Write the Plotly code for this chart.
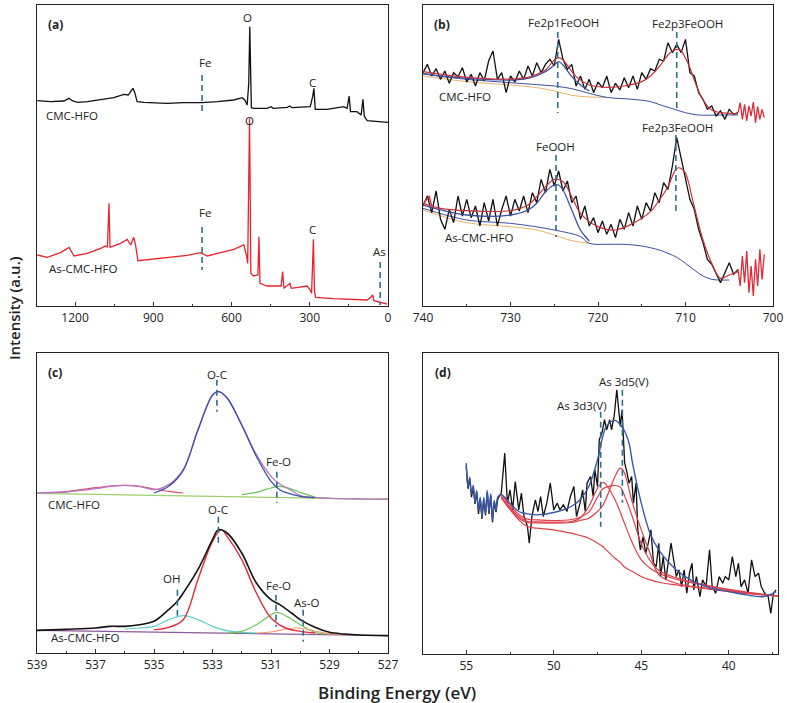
import plotly.graph_objects as go

FONT = "Open Sans"

# ---------------- Panel (a): survey spectra ----------------
A_CMC_EV = [1345, 1294, 1243, 1223, 1211, 1191, 1153, 1102, 1051, 1013, 996, 987, 978, 971, 962, 936, 847, 783, 713, 655, 591, 559, 549, 540, 534, 530, 527, 524, 515, 464, 448, 441, 386, 377, 368, 298, 289, 284, 279, 234, 170, 157, 149, 144, 119, 112, 103, 96, 91, 80, 0]
A_CMC_I = [616, 613, 615, 623, 616, 611, 613, 618, 625, 635, 633, 643, 653, 640, 613, 611, 608, 610, 610, 613, 618, 625, 618, 603, 668, 838, 718, 595, 593, 593, 598, 593, 596, 600, 595, 598, 628, 653, 590, 590, 598, 593, 630, 583, 583, 578, 573, 620, 570, 556, 551]
A_AS_EV = [1345, 1307, 1256, 1223, 1204, 1153, 1102, 1083, 1076, 1070, 1066, 1025, 1000, 987, 975, 968, 959, 910, 847, 770, 719, 693, 642, 591, 553, 543, 538, 534, 531, 528, 526, 515, 499, 495, 491, 464, 410, 404, 399, 376, 371, 310, 300, 293, 286, 282, 277, 208, 80, 64, 59, 54, 4]
A_AS_I = [153, 146, 160, 176, 150, 158, 173, 180, 176, 308, 176, 188, 200, 183, 206, 183, 136, 140, 146, 152, 160, 150, 160, 170, 183, 153, 128, 420, 563, 300, 98, 90, 93, 208, 68, 60, 60, 103, 53, 68, 53, 60, 50, 38, 200, 43, 26, 22, 18, 28, 33, 16, 6]

# ---------------- Panel (b): Fe 2p ----------------
B_EV = [740, 739.5, 739, 738.5, 738, 737.5, 737, 736.5, 736, 735.5, 735, 734.5, 734, 733.5, 733, 732.5, 732, 731.5, 731, 730.5,
        730, 729.5, 729, 728.5, 728, 727.5, 727, 726.5, 726, 725.5, 725, 724.5, 724, 723.5, 723, 722.5, 722, 721.5, 721, 720.5,
        720, 719.5, 719, 718.5, 718, 717.5, 717, 716.5, 716, 715.5, 715, 714.5, 714, 713.5, 713, 712.5, 712, 711.5, 711, 710.5,
        710, 709.5, 709, 708.5, 708, 707.5, 707, 706.5, 706, 705.5, 705, 704.5, 704]
B_CMC_RAW = [700, 725, 690, 712, 680, 705, 668, 700, 688, 715, 672, 695, 660, 700, 676, 735, 765, 680, 700, 640,
             690, 672, 705, 680, 720, 690, 730, 700, 725, 740, 720, 800, 740, 710, 725, 660, 690, 650, 680, 640,
             672, 655, 690, 640, 668, 648, 685, 655, 690, 650, 700, 680, 712, 705, 740, 735, 790, 760, 785, 760,
             800, 700, 690, 640, 620, 590, 600, 570, 585, 560, 590, 575, 580]
B_AS_RAW = [300, 330, 280, 345, 260, 230, 290, 250, 330, 270, 320, 265, 300, 240, 310, 255, 320, 240, 290, 330,
            270, 320, 285, 330, 280, 340, 310, 380, 340, 410, 360, 405, 345, 375, 310, 330, 260, 300, 240, 265,
            220, 255, 215, 245, 205, 260, 230, 280, 240, 300, 260, 310, 285, 340, 310, 370, 350, 420, 505, 440,
            380, 320, 290, 230, 190, 140, 125, 95, 70, 100, 130, 95, 110]
B_TAIL_EV = [704, 703.75, 703.5, 703.25, 703, 702.75, 702.5, 702.25, 702, 701.75, 701.5, 701.25, 701]
B_CMC_TAIL = [580, 610, 560, 605, 555, 600, 570, 612, 550, 598, 560, 590, 565]
B_AS_TAIL = [110, 60, 150, 70, 165, 40, 120, 30, 140, 60, 170, 80, 155]
B_AS_HEAD_EV = [740, 739.6, 739.3, 739]
B_AS_HEAD = [305, 320, 330, 300]

B_CMC_FIT_EV = [740, 735, 730, 728, 727, 726, 725, 724.5, 724, 723.5, 722.5, 721, 719, 717, 715, 714, 713, 712, 711.5, 711, 710.5, 710, 709.5, 709, 708, 707, 706, 705, 704]
B_CMC_FIT = [703, 686, 681, 686, 695, 708, 738, 745, 738, 722, 688, 663, 656, 660, 673, 690, 718, 753, 765, 770, 766, 743, 715, 678, 618, 588, 580, 578, 576]
B_CMC_COMP_EV = [740, 738, 735, 730, 728, 726, 725, 724.5, 724, 723, 722, 721]
B_CMC_COMP = [698, 690, 683, 678, 683, 703, 723, 733, 723, 688, 663, 645]
B_CMC_BG_EV = [740, 735, 730, 727, 725, 723, 721, 719, 716, 714, 712.5, 711, 710, 708.5, 706, 704]
B_CMC_BG = [696, 680, 670, 664, 660, 652, 638, 626, 620, 613, 600, 588, 580, 573, 573, 573]
B_CMC_OR_EV = [740, 735, 730, 727, 725, 723, 721, 719]
B_CMC_OR = [690, 673, 663, 655, 645, 632, 627, 626]

B_AS_FIT_EV = [740, 738, 735, 730, 728, 727, 726, 725, 724, 723, 722, 720, 718, 716, 714, 713, 712, 711, 710.5, 710, 709, 708, 707, 706, 705, 704]
B_AS_FIT = [308, 293, 286, 286, 303, 328, 358, 380, 373, 328, 278, 238, 228, 248, 283, 318, 358, 413, 413, 398, 298, 198, 128, 83, 93, 103]
B_AS_COMP_EV = [740, 735, 730, 728, 727, 726, 725, 724.5, 724, 723, 722, 721.5, 721]
B_AS_COMP = [303, 273, 273, 288, 308, 343, 363, 363, 348, 288, 228, 210, 195]
B_AS_BG_EV = [740, 735, 730, 725, 722, 721, 719, 717, 715, 713, 712, 711, 710, 709, 708, 707, 706, 705]
B_AS_BG = [293, 258, 248, 228, 208, 188, 185, 185, 180, 168, 158, 146, 128, 108, 90, 80, 78, 78]
B_AS_OR_EV = [740, 735, 730, 727, 725, 723, 721]
B_AS_OR = [288, 250, 238, 228, 213, 196, 188]

# ---------------- Panel (c): O 1s ----------------
C_CMC_ENV_EV = [539, 538, 537, 536.5, 536, 535.5, 535, 534.5, 534, 533.5, 533, 532.8, 532.5, 532, 531.5, 531, 530.7, 530.3, 530, 529.5, 529, 528, 527]
C_CMC_ENV = [480, 483, 493, 500, 503, 500, 490, 505, 550, 670, 775, 785, 765, 685, 595, 530, 507, 488, 472, 466, 464, 462, 462]
C_CMC_OC_EV = [535, 534.5, 534, 533.5, 533, 532.8, 532.5, 532, 531.5, 531, 530.7, 530.5, 530, 529.5]
C_CMC_OC = [480, 500, 548, 668, 773, 784, 765, 683, 590, 515, 490, 482, 470, 466]
C_CMC_P1_EV = [538.5, 538, 537.5, 537, 536.5, 536, 535.5, 535, 534.5, 534]
C_CMC_P1 = [481, 484, 490, 496, 501, 503, 500, 492, 485, 480]
C_CMC_FEO_EV = [532, 531.5, 531, 530.7, 530.3, 530, 529.5, 529]
C_CMC_FEO = [475, 482, 495, 500, 492, 482, 468, 465]
C_CMC_BASE_EV = [539, 527]
C_CMC_BASE = [479, 461]

C_AS_ENV_EV = [539, 538, 537, 536.5, 536, 535.5, 535, 534.5, 534.2, 534, 533.5, 533, 532.8, 532.5, 532, 531.5, 531, 530.7, 530.3, 530, 529.5, 529, 528.5, 528, 527]
C_AS_ENV = [68, 71, 75, 80, 80, 85, 95, 130, 155, 180, 250, 340, 370, 360, 300, 210, 160, 145, 120, 100, 77, 62, 57, 54, 52]
C_AS_OC_EV = [535, 534.5, 534, 533.5, 533, 532.7, 532.5, 532, 531.5, 531, 530.5, 530, 529.5]
C_AS_OC = [70, 77, 100, 220, 335, 370, 350, 280, 180, 105, 75, 65, 60]
C_AS_OH_EV = [536, 535.5, 535, 534.5, 534, 533.5, 533, 532.5, 532, 531.5]
C_AS_OH = [72, 75, 80, 100, 112, 100, 80, 67, 62, 60]
C_AS_FEO_EV = [532.5, 532, 531.5, 531, 530.8, 530.5, 530, 529.5, 529]
C_AS_FEO = [60, 65, 85, 115, 122, 112, 85, 62, 57]
C_AS_ASO_EV = [531.5, 531, 530.5, 530.2, 529.8, 529.5, 529, 528.5]
C_AS_ASO = [60, 63, 72, 75, 72, 66, 58, 55]
C_AS_BASE_EV = [539, 527]
C_AS_BASE = [68, 52]

# ---------------- Panel (d): As 3d ----------------
D_RAW_EV = [55, 54.9, 54.8, 54.7, 54.6, 54.5, 54.4, 54.3, 54.2, 54.1, 54.0, 53.9, 53.8, 53.7, 53.6, 53.5, 53.4, 53.3, 53.2,
            53.0, 52.8, 52.65, 52.5, 52.35, 52.2, 52.0, 51.85, 51.7, 51.5, 51.4, 51.25, 51.05, 50.9, 50.75, 50.6, 50.4, 50.2,
            50.0, 49.8, 49.65, 49.45, 49.25, 49.05, 48.85, 48.7, 48.5, 48.35, 48.2, 48.1, 47.9, 47.75, 47.65, 47.5, 47.4,
            47.25, 47.1, 46.98, 46.8, 46.7, 46.55, 46.4, 46.3, 46.2, 46.1, 45.95, 45.85, 45.7, 45.55, 45.45, 45.3, 45.2,
            45.05, 44.9, 44.75, 44.6, 44.45, 44.3, 44.15, 44.0, 43.9, 43.75, 43.6, 43.45, 43.3, 43.15, 43.0, 42.85, 42.7,
            42.55, 42.4, 42.25, 42.1, 42.0, 41.85, 41.65, 41.5, 41.3, 41.1, 40.95, 40.75, 40.55, 40.35, 40.2, 40.0, 39.8,
            39.6, 39.45, 39.3, 39.1, 38.9, 38.7, 38.5, 38.3, 38.15, 37.95, 37.75, 37.6, 37.45, 37.3]
D_RAW = [565, 495, 525, 470, 500, 450, 485, 420, 465, 405, 462, 415, 485, 420, 475, 395, 455, 425, 465,
         482, 602, 452, 492, 432, 517, 432, 482, 412, 382, 332, 412, 462, 427, 472, 412, 452, 512,
         432, 452, 432, 447, 427, 472, 502, 412, 452, 492, 427, 512, 532, 472, 552, 502, 642,
         662, 702, 672, 702, 672, 712, 792, 722, 682, 732, 572, 552, 512, 532, 452, 512, 372,
         312, 352, 302, 332, 372, 272, 262, 332, 232, 292, 222, 272, 332, 282, 232, 252, 202,
         252, 182, 242, 272, 192, 232, 172, 222, 202, 312, 202, 182, 232, 212, 232, 222, 292,
         232, 272, 202, 222, 182, 282, 232, 242, 202, 182, 172, 122, 182, 192]
D_ENV_EV = [55, 54.9, 54.8, 54.7, 54.6, 54.5, 54.4, 54.3, 54.2, 54.1, 54.0, 53.9, 53.8, 53.7, 53.6, 53.5, 53.4, 53.3, 53.2,
            53.0, 52.5, 52, 51.5, 51, 50, 49, 48.5, 48, 47.5, 47.2, 47, 46.5, 46, 45.7, 45.5, 45, 44.5, 44, 43, 42, 41, 40, 39, 38, 37.3]
D_ENV = [572, 500, 530, 480, 505, 455, 490, 430, 470, 410, 470, 420, 490, 425, 480, 400, 460, 430, 470,
         477, 452, 427, 420, 417, 424, 442, 462, 502, 582, 652, 682, 700, 672, 632, 572, 452, 362, 312, 252, 217, 197, 187, 177, 172, 187]
D_FIT_EV = [53, 52, 51.5, 51, 50, 49, 48.5, 48, 47.5, 47.2, 47, 46.5, 46.2, 46, 45.5, 45, 44.5, 44, 43, 42, 40, 38, 37.2]
D_BG = [467, 402, 382, 377, 372, 362, 355, 347, 332, 322, 312, 287, 275, 262, 247, 232, 222, 215, 207, 200, 187, 177, 174]
D_3D3 = [472, 412, 397, 396, 395, 397, 407, 442, 497, 514, 507, 462, 425, 397, 332, 282, 257, 242, 224, 212, 192, 177, 174]
D_3D5 = [472, 407, 394, 393, 392, 394, 400, 407, 427, 445, 467, 532, 557, 547, 452, 372, 302, 237, 212, 202, 190, 177, 174]
D_SUM = [480, 418, 404, 402, 400, 403, 410, 425, 470, 495, 500, 505, 500, 480, 410, 330, 280, 250, 228, 214, 194, 179, 175]

BLACK = "#111111"
RED_A = "#e8232d"
RED_B = "#c8323c"
BLUE_B = "#3c4fa0"
ORANGE = "#e9b36a"
DASH = "#2c6f8c"

fig = go.Figure()

def line(x, y, color, xa, ya, width=1.0, shape="linear"):
    fig.add_trace(go.Scatter(x=x, y=y, mode="lines", line=dict(color=color, width=width, shape=shape),
                             xaxis=xa, yaxis=ya, showlegend=False, hoverinfo="skip"))

# (a)
line(A_CMC_EV, A_CMC_I, BLACK, "x", "y", 1.3)
line(A_AS_EV, A_AS_I, RED_A, "x", "y", 1.3)

# (b)
line(B_CMC_OR_EV, B_CMC_OR, ORANGE, "x2", "y2", 1, "spline")
line(B_CMC_BG_EV, B_CMC_BG, BLUE_B, "x2", "y2", 1, "spline")
line(B_EV, B_CMC_RAW, BLACK, "x2", "y2", 1.3)
line(B_TAIL_EV, B_CMC_TAIL, "#e02a36", "x2", "y2", 1.3)
line(B_CMC_COMP_EV, B_CMC_COMP, BLUE_B, "x2", "y2", 1.3, "spline")
line(B_CMC_FIT_EV, B_CMC_FIT, RED_B, "x2", "y2", 1.2, "spline")
line(B_AS_OR_EV, B_AS_OR, ORANGE, "x2", "y2", 1, "spline")
line(B_AS_BG_EV, B_AS_BG, BLUE_B, "x2", "y2", 1, "spline")
line(B_EV, B_AS_RAW, BLACK, "x2", "y2", 1.3)
line(B_TAIL_EV, B_AS_TAIL, "#e02a36", "x2", "y2", 1.3)
line(B_AS_HEAD_EV, B_AS_HEAD, "#e02a36", "x2", "y2", 1.3)
line(B_AS_COMP_EV, B_AS_COMP, BLUE_B, "x2", "y2", 1.3, "spline")
line(B_AS_FIT_EV, B_AS_FIT, RED_B, "x2", "y2", 1.2, "spline")

# (c)
line(C_CMC_BASE_EV, C_CMC_BASE, "#9ccf6a", "x3", "y3", 1.2)
line(C_CMC_P1_EV, C_CMC_P1, "#e0506a", "x3", "y3", 1.2, "spline")
line(C_CMC_FEO_EV, C_CMC_FEO, "#6cc35a", "x3", "y3", 1.2, "spline")
line(C_CMC_ENV_EV, C_CMC_ENV, "#b874c0", "x3", "y3", 1.3, "spline")
line(C_CMC_OC_EV, C_CMC_OC, "#3a4fa5", "x3", "y3", 1.3, "spline")
line(C_AS_BASE_EV, C_AS_BASE, "#8a5a9a", "x3", "y3", 1.2)
line(C_AS_OH_EV, C_AS_OH, "#5fd0c8", "x3", "y3", 1.2, "spline")
line(C_AS_FEO_EV, C_AS_FEO, "#6cc35a", "x3", "y3", 1.2, "spline")
line(C_AS_ASO_EV, C_AS_ASO, "#f0a070", "x3", "y3", 1.2, "spline")
line(C_AS_OC_EV, C_AS_OC, "#e02a3a", "x3", "y3", 1.4, "spline")
line(C_AS_ENV_EV, C_AS_ENV, BLACK, "x3", "y3", 1.6, "spline")

# (d)
line(D_RAW_EV, D_RAW, BLACK, "x4", "y4", 1.3)
line(D_FIT_EV, D_BG, "#e0404a", "x4", "y4", 1.2, "spline")
line(D_FIT_EV, D_3D3, "#e0404a", "x4", "y4", 1.2, "spline")
line(D_FIT_EV, D_3D5, "#e0404a", "x4", "y4", 1.2, "spline")
line(D_FIT_EV, D_SUM, "#e0404a", "x4", "y4", 1.2, "spline")
line(D_ENV_EV, D_ENV, "#3a58a8", "x4", "y4", 1.4, "spline")

# ---------- axes ----------
def xax(domain, rng, dtick, minor, tick0, anchor):
    return dict(domain=domain, range=rng, dtick=dtick, tick0=tick0, ticks="inside", ticklen=4,
                tickcolor="#333", tickwidth=1, showline=True, linecolor="#222", linewidth=1.3,
                mirror=True, showgrid=False, zeroline=False, anchor=anchor, automargin=False,
                tickfont=dict(family=FONT, size=12, color="#222"),
                minor=dict(ticks="inside", ticklen=2, dtick=minor, tickcolor="#333", showgrid=False))

def yax(domain, rng, anchor):
    return dict(domain=domain, range=rng, showticklabels=False, ticks="", showline=True, automargin=False,
                linecolor="#222", linewidth=1.3, mirror=True, showgrid=False, zeroline=False, anchor=anchor)

W, H = 787, 703
top_dom = [1 - 306 / H, 1 - 5 / H]
bot_dom_c = [1 - 653 / H, 1 - 353 / H]
bot_dom_d = [1 - 654 / H, 1 - 353 / H]

fig.update_layout(
    width=W, height=H, margin=dict(l=0, r=0, t=0, b=0, pad=0, autoexpand=False),
    paper_bgcolor="white", plot_bgcolor="white",
    xaxis=xax([37 / W, 388 / W], [1346, 0], 300, 150, 0, "y"),
    yaxis=yax(top_dom, [0, 903], "x"),
    xaxis2=xax([423 / W, 773 / W], [740, 700], 10, 5, 700, "y2"),
    yaxis2=yax(top_dom, [0, 903], "x2"),
    xaxis3=xax([37 / W, 388 / W], [539, 527], 2, 1, 527, "y3"),
    yaxis3=yax(bot_dom_c, [0, 900], "x3"),
    xaxis4=xax([423 / W, 778 / W], [57.47, 37.19], 5, 2.5, 40, "y4"),
    yaxis4=yax(bot_dom_d, [0, 902], "x4"),
)

ann = []
def label(x, y, text, xa, ya, size=11.5, bold=False):
    ann.append(dict(x=x, y=y, xref=xa, yref=ya, text=("<b>%s</b>" % text) if bold else text,
                    xanchor="center", yanchor="middle",
                    showarrow=False, font=dict(family=FONT, size=size, color="#222")))

def dash(x, y0, y1, xa, ya):
    fig.add_shape(type="line", x0=x, x1=x, y0=y0, y1=y1, xref=xa, yref=ya,
                  line=dict(color=DASH, width=1.6, dash="6px,4px"))

# (a)
label(1276, 843, "(a)", "x", "y", 12, True)
label(537, 864, "O", "x", "y")
label(701, 729, "Fe", "x", "y")
dash(713, 693, 579, "x", "y")
label(291, 669, "C", "x", "y")
label(1210, 570, "CMC-HFO", "x", "y")
label(533, 555, "O", "x", "y")
label(701, 279, "Fe", "x", "y")
dash(713, 237, 108, "x", "y")
label(291, 228, "C", "x", "y")
label(31, 162, "As", "x", "y")
dash(30, 132, 3, "x", "y")
label(1168, 114, "As-CMC-HFO", "x", "y")

# (b)
label(737.8, 843, "(b)", "x2", "y2", 12, True)
label(724.0, 849, "Fe2p1FeOOH", "x2", "y2")
dash(724.6, 822, 579, "x2", "y2")
label(709.8, 846, "Fe2p3FeOOH", "x2", "y2")
dash(711.0, 822, 582, "x2", "y2")
label(735.2, 627, "CMC-HFO", "x2", "y2")
label(710.9, 534, "Fe2p3FeOOH", "x2", "y2")
dash(711.1, 513, 273, "x2", "y2")
label(724.9, 477, "FeOOH", "x2", "y2")
dash(724.8, 453, 207, "x2", "y2")
label(733.6, 204, "As-CMC-HFO", "x2", "y2")

# (c)
label(538.4, 841, "(c)", "x3", "y3", 12, True)
label(532.85, 835, "O-C", "x3", "y3")
dash(532.85, 820, 724, "x3", "y3")
label(530.73, 574, "Fe-O", "x3", "y3")
dash(530.8, 544, 451, "x3", "y3")
label(537.75, 445, "CMC-HFO", "x3", "y3")
label(532.8, 430, "O-C", "x3", "y3")
dash(532.8, 409, 319, "x3", "y3")
label(534.4, 223, "OH", "x3", "y3")
dash(534.2, 190, 100, "x3", "y3")
label(530.76, 202, "Fe-O", "x3", "y3")
dash(530.83, 175, 79, "x3", "y3")
label(529.77, 151, "As-O", "x3", "y3")
dash(529.9, 130, 34, "x3", "y3")
label(537.35, 46, "As-CMC-HFO", "x3", "y3")

# (d)
label(56.3, 843, "(d)", "x4", "y4", 12, True)
label(45.99, 816, "As 3d5(V)", "x4", "y4")
label(48.38, 744, "As 3d3(V)", "x4", "y4")
dash(47.32, 726, 381, "x4", "y4")
dash(46.08, 792, 453, "x4", "y4")

# global titles
ann.append(dict(x=397 / W, y=1 - 692 / H, xref="paper", yref="paper", text="Binding Energy (eV)",
                xanchor="center", yanchor="middle",
                showarrow=False, font=dict(family=FONT, size=17, color="#222", weight=600)))
ann.append(dict(x=14 / W, y=1 - 308 / H, xref="paper", yref="paper", text="Intensity (a.u.)",
                xanchor="center", yanchor="middle",
                textangle=-90, showarrow=False, font=dict(family=FONT, size=15, color="#222", weight=600)))

fig.update_layout(annotations=ann)
fig.write_html("out.html", config={"displayModeBar": False},
               post_script="document.body.style.margin='0';document.body.style.overflow='hidden';")
